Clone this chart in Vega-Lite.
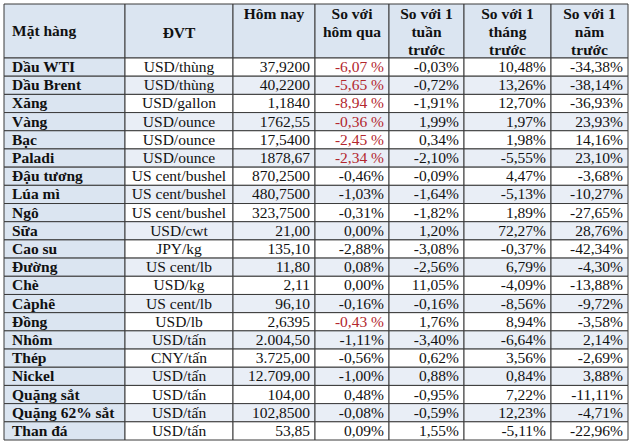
{
  "$schema": "https://vega.github.io/schema/vega-lite/v6.json",
  "padding": {"left": 3, "top": 3, "right": 0, "bottom": 0},
  "background": "white",
  "bounds": "flush",
  "spacing": 0,
  "config": {
    "view": {"stroke": null},
    "concat": {"spacing": 0},
    "text": {"font": "Liberation Serif", "fontSize": 15.5, "color": "#111111"}
  },
  "data": {"values": [
    {"item": "Dầu WTI", "unit": "USD/thùng", "today": "37,9200", "d1": "-6,07 %", "w1": "-0,03%", "m1": "10,48%", "y1": "-34,38%"},
    {"item": "Dầu Brent", "unit": "USD/thùng", "today": "40,2200", "d1": "-5,65 %", "w1": "-0,72%", "m1": "13,26%", "y1": "-38,14%"},
    {"item": "Xăng", "unit": "USD/gallon", "today": "1,1840", "d1": "-8,94 %", "w1": "-1,91%", "m1": "12,70%", "y1": "-36,93%"},
    {"item": "Vàng", "unit": "USD/ounce", "today": "1762,55", "d1": "-0,36 %", "w1": "1,99%", "m1": "1,97%", "y1": "23,93%"},
    {"item": "Bạc", "unit": "USD/ounce", "today": "17,5400", "d1": "-2,45 %", "w1": "0,34%", "m1": "1,98%", "y1": "14,16%"},
    {"item": "Paladi", "unit": "USD/ounce", "today": "1878,67", "d1": "-2,34 %", "w1": "-2,10%", "m1": "-5,55%", "y1": "23,10%"},
    {"item": "Đậu tương", "unit": "US cent/bushel", "today": "870,2500", "d1": "-0,46%", "w1": "-0,09%", "m1": "4,47%", "y1": "-3,68%"},
    {"item": "Lúa mì", "unit": "US cent/bushel", "today": "480,7500", "d1": "-1,03%", "w1": "-1,64%", "m1": "-5,13%", "y1": "-10,27%"},
    {"item": "Ngô", "unit": "US cent/bushel", "today": "323,7500", "d1": "-0,31%", "w1": "-1,82%", "m1": "1,89%", "y1": "-27,65%"},
    {"item": "Sữa", "unit": "USD/cwt", "today": "21,00", "d1": "0,00%", "w1": "1,20%", "m1": "72,27%", "y1": "28,76%"},
    {"item": "Cao su", "unit": "JPY/kg", "today": "135,10", "d1": "-2,88%", "w1": "-3,08%", "m1": "-0,37%", "y1": "-42,34%"},
    {"item": "Đường", "unit": "US cent/lb", "today": "11,80", "d1": "0,08%", "w1": "-2,56%", "m1": "6,79%", "y1": "-4,30%"},
    {"item": "Chè", "unit": "USD/kg", "today": "2,11", "d1": "0,00%", "w1": "11,05%", "m1": "-4,09%", "y1": "-13,88%"},
    {"item": "Càphê", "unit": "US cent/lb", "today": "96,10", "d1": "-0,16%", "w1": "-0,16%", "m1": "-8,56%", "y1": "-9,72%"},
    {"item": "Đồng", "unit": "USD/lb", "today": "2,6395", "d1": "-0,43 %", "w1": "1,76%", "m1": "8,94%", "y1": "-3,58%"},
    {"item": "Nhôm", "unit": "USD/tấn", "today": "2.004,50", "d1": "-1,11%", "w1": "-3,40%", "m1": "-6,64%", "y1": "2,14%"},
    {"item": "Thép", "unit": "CNY/tấn", "today": "3.725,00", "d1": "-0,56%", "w1": "0,62%", "m1": "3,56%", "y1": "-2,69%"},
    {"item": "Nickel", "unit": "USD/tấn", "today": "12.709,00", "d1": "-1,00%", "w1": "0,88%", "m1": "0,84%", "y1": "3,88%"},
    {"item": "Quặng sắt", "unit": "USD/tấn", "today": "104,00", "d1": "0,48%", "w1": "-0,95%", "m1": "7,22%", "y1": "-11,11%"},
    {"item": "Quặng 62% sắt", "unit": "USD/tấn", "today": "102,8500", "d1": "-0,08%", "w1": "-0,59%", "m1": "12,23%", "y1": "-4,71%"},
    {"item": "Than đá", "unit": "USD/tấn", "today": "53,85", "d1": "0,09%", "w1": "1,55%", "m1": "-5,11%", "y1": "-22,96%"}
  ]},
  "hconcat": [
    {"width": 121, "height": 436, "resolve": {"scale": {"y": "independent"}},
     "layer": [
       {"data": {"values": [{"row": "header", "h": "Mặt hàng"}]},
        "encoding": {"y": {"field": "row", "type": "nominal", "axis": null, "scale": {"range": [0, 54], "paddingInner": 0, "paddingOuter": 0}}},
        "layer": [
          {"mark": {"type": "rect", "fill": "#dbe5f1", "stroke": "#3a3a3a", "strokeWidth": 1}, "encoding": {"x": {"value": 0}, "x2": {"value": "width"}}},
          {"mark": {"type": "text", "fontWeight": "bold", "align": "left", "baseline": "middle", "x": 8}, "encoding": {"text": {"field": "h"}}}
        ]},
       {"transform": [{"window": [{"op": "row_number", "as": "rn"}]}],
        "encoding": {"y": {"field": "item", "type": "nominal", "sort": null, "axis": null, "scale": {"range": [54, 436], "paddingInner": 0, "paddingOuter": 0}}},
        "layer": [
          {"mark": {"type": "rect", "stroke": "#3a3a3a", "strokeWidth": 1, "fill": "#dbe5f1"}, "encoding": {"x": {"value": 0}, "x2": {"value": "width"}}},
          {"mark": {"type": "text", "align": "left", "x": 8, "fontWeight": "bold"}, "encoding": {"text": {"field": "item"}}}
        ]}
     ]},
    {"width": 108, "height": 436, "resolve": {"scale": {"y": "independent"}},
     "layer": [
       {"data": {"values": [{"row": "header", "h": "ĐVT"}]},
        "encoding": {"y": {"field": "row", "type": "nominal", "axis": null, "scale": {"range": [0, 54], "paddingInner": 0, "paddingOuter": 0}}},
        "layer": [
          {"mark": {"type": "rect", "fill": "#dbe5f1", "stroke": "#3a3a3a", "strokeWidth": 1}, "encoding": {"x": {"value": 0}, "x2": {"value": "width"}}},
          {"mark": {"type": "text", "fontWeight": "bold", "align": "center", "baseline": "middle", "dy": 2}, "encoding": {"text": {"field": "h"}}}
        ]},
       {"transform": [{"window": [{"op": "row_number", "as": "rn"}]}],
        "encoding": {"y": {"field": "item", "type": "nominal", "sort": null, "axis": null, "scale": {"range": [54, 436], "paddingInner": 0, "paddingOuter": 0}}},
        "layer": [
          {"mark": {"type": "rect", "stroke": "#3a3a3a", "strokeWidth": 1}, "encoding": {"x": {"value": 0}, "x2": {"value": "width"}, "fill": {"condition": {"test": "datum.rn % 2 == 0", "value": "#e9eef6"}, "value": "#ffffff"}}},
          {"mark": {"type": "text", "align": "center"}, "encoding": {"text": {"field": "unit"}}}
        ]}
     ]},
    {"width": 82, "height": 436, "resolve": {"scale": {"y": "independent"}},
     "layer": [
       {"data": {"values": [{"row": "header", "h": "Hôm nay"}]},
        "encoding": {"y": {"field": "row", "type": "nominal", "axis": null, "scale": {"range": [0, 54], "paddingInner": 0, "paddingOuter": 0}}},
        "layer": [
          {"mark": {"type": "rect", "fill": "#dbe5f1", "stroke": "#3a3a3a", "strokeWidth": 1}, "encoding": {"x": {"value": 0}, "x2": {"value": "width"}}},
          {"mark": {"type": "text", "fontWeight": "bold", "align": "center", "baseline": "middle", "dy": -17}, "encoding": {"text": {"field": "h"}}}
        ]},
       {"transform": [{"window": [{"op": "row_number", "as": "rn"}]}],
        "encoding": {"y": {"field": "item", "type": "nominal", "sort": null, "axis": null, "scale": {"range": [54, 436], "paddingInner": 0, "paddingOuter": 0}}},
        "layer": [
          {"mark": {"type": "rect", "stroke": "#3a3a3a", "strokeWidth": 1}, "encoding": {"x": {"value": 0}, "x2": {"value": "width"}, "fill": {"condition": {"test": "datum.rn % 2 == 0", "value": "#e9eef6"}, "value": "#ffffff"}}},
          {"mark": {"type": "text", "align": "right", "x": "width", "dx": -5}, "encoding": {"text": {"field": "today"}}}
        ]}
     ]},
    {"width": 74, "height": 436, "resolve": {"scale": {"y": "independent"}},
     "layer": [
       {"data": {"values": [{"row": "header", "h": "So với\nhôm qua"}]},
        "encoding": {"y": {"field": "row", "type": "nominal", "axis": null, "scale": {"range": [0, 54], "paddingInner": 0, "paddingOuter": 0}}},
        "layer": [
          {"mark": {"type": "rect", "fill": "#dbe5f1", "stroke": "#3a3a3a", "strokeWidth": 1}, "encoding": {"x": {"value": 0}, "x2": {"value": "width"}}},
          {"mark": {"type": "text", "fontWeight": "bold", "align": "center", "baseline": "middle", "lineHeight": 18, "lineBreak": "\n", "dy": -17}, "encoding": {"text": {"field": "h"}}}
        ]},
       {"transform": [{"window": [{"op": "row_number", "as": "rn"}]}],
        "encoding": {"y": {"field": "item", "type": "nominal", "sort": null, "axis": null, "scale": {"range": [54, 436], "paddingInner": 0, "paddingOuter": 0}}},
        "layer": [
          {"mark": {"type": "rect", "stroke": "#3a3a3a", "strokeWidth": 1}, "encoding": {"x": {"value": 0}, "x2": {"value": "width"}, "fill": {"condition": {"test": "datum.rn % 2 == 0", "value": "#e9eef6"}, "value": "#ffffff"}}},
          {"mark": {"type": "text", "align": "right", "x": "width", "dx": -5}, "encoding": {"text": {"field": "d1"}, "color": {"condition": {"test": "indexof(datum.d1, ' %') >= 0", "value": "#b3262e"}, "value": "#111111"}}}
        ]}
     ]},
    {"width": 75, "height": 436, "resolve": {"scale": {"y": "independent"}},
     "layer": [
       {"data": {"values": [{"row": "header", "h": "So với 1\ntuần\ntrước"}]},
        "encoding": {"y": {"field": "row", "type": "nominal", "axis": null, "scale": {"range": [0, 54], "paddingInner": 0, "paddingOuter": 0}}},
        "layer": [
          {"mark": {"type": "rect", "fill": "#dbe5f1", "stroke": "#3a3a3a", "strokeWidth": 1}, "encoding": {"x": {"value": 0}, "x2": {"value": "width"}}},
          {"mark": {"type": "text", "fontWeight": "bold", "align": "center", "baseline": "middle", "lineHeight": 18, "lineBreak": "\n", "dy": -17}, "encoding": {"text": {"field": "h"}}}
        ]},
       {"transform": [{"window": [{"op": "row_number", "as": "rn"}]}],
        "encoding": {"y": {"field": "item", "type": "nominal", "sort": null, "axis": null, "scale": {"range": [54, 436], "paddingInner": 0, "paddingOuter": 0}}},
        "layer": [
          {"mark": {"type": "rect", "stroke": "#3a3a3a", "strokeWidth": 1}, "encoding": {"x": {"value": 0}, "x2": {"value": "width"}, "fill": {"condition": {"test": "datum.rn % 2 == 0", "value": "#e9eef6"}, "value": "#ffffff"}}},
          {"mark": {"type": "text", "align": "right", "x": "width", "dx": -5}, "encoding": {"text": {"field": "w1"}}}
        ]}
     ]},
    {"width": 87, "height": 436, "resolve": {"scale": {"y": "independent"}},
     "layer": [
       {"data": {"values": [{"row": "header", "h": "So với 1\ntháng\ntrước"}]},
        "encoding": {"y": {"field": "row", "type": "nominal", "axis": null, "scale": {"range": [0, 54], "paddingInner": 0, "paddingOuter": 0}}},
        "layer": [
          {"mark": {"type": "rect", "fill": "#dbe5f1", "stroke": "#3a3a3a", "strokeWidth": 1}, "encoding": {"x": {"value": 0}, "x2": {"value": "width"}}},
          {"mark": {"type": "text", "fontWeight": "bold", "align": "center", "baseline": "middle", "lineHeight": 18, "lineBreak": "\n", "dy": -17}, "encoding": {"text": {"field": "h"}}}
        ]},
       {"transform": [{"window": [{"op": "row_number", "as": "rn"}]}],
        "encoding": {"y": {"field": "item", "type": "nominal", "sort": null, "axis": null, "scale": {"range": [54, 436], "paddingInner": 0, "paddingOuter": 0}}},
        "layer": [
          {"mark": {"type": "rect", "stroke": "#3a3a3a", "strokeWidth": 1}, "encoding": {"x": {"value": 0}, "x2": {"value": "width"}, "fill": {"condition": {"test": "datum.rn % 2 == 0", "value": "#e9eef6"}, "value": "#ffffff"}}},
          {"mark": {"type": "text", "align": "right", "x": "width", "dx": -5}, "encoding": {"text": {"field": "m1"}}}
        ]}
     ]},
    {"width": 77, "height": 436, "resolve": {"scale": {"y": "independent"}},
     "layer": [
       {"data": {"values": [{"row": "header", "h": "So với 1\nnăm\ntrước"}]},
        "encoding": {"y": {"field": "row", "type": "nominal", "axis": null, "scale": {"range": [0, 54], "paddingInner": 0, "paddingOuter": 0}}},
        "layer": [
          {"mark": {"type": "rect", "fill": "#dbe5f1", "stroke": "#3a3a3a", "strokeWidth": 1}, "encoding": {"x": {"value": 0}, "x2": {"value": "width"}}},
          {"mark": {"type": "text", "fontWeight": "bold", "align": "center", "baseline": "middle", "lineHeight": 18, "lineBreak": "\n", "dy": -17}, "encoding": {"text": {"field": "h"}}}
        ]},
       {"transform": [{"window": [{"op": "row_number", "as": "rn"}]}],
        "encoding": {"y": {"field": "item", "type": "nominal", "sort": null, "axis": null, "scale": {"range": [54, 436], "paddingInner": 0, "paddingOuter": 0}}},
        "layer": [
          {"mark": {"type": "rect", "stroke": "#3a3a3a", "strokeWidth": 1}, "encoding": {"x": {"value": 0}, "x2": {"value": "width"}, "fill": {"condition": {"test": "datum.rn % 2 == 0", "value": "#e9eef6"}, "value": "#ffffff"}}},
          {"mark": {"type": "text", "align": "right", "x": "width", "dx": -5}, "encoding": {"text": {"field": "y1"}}}
        ]}
     ]}
  ]
}
